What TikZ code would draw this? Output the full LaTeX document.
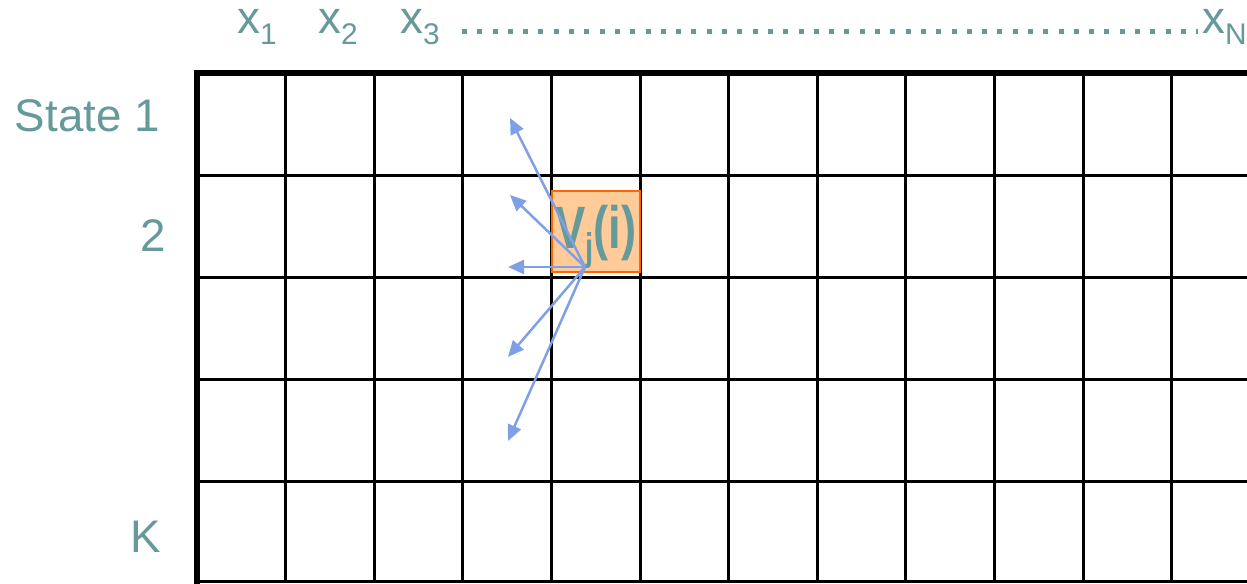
\documentclass[tikz,border=0pt]{standalone}
\usepackage{fontspec}
\setmainfont{Liberation Sans}
\usepackage{tikz}
\usetikzlibrary{arrows.meta}
\definecolor{VTeal}{HTML}{669999}
\definecolor{VArrow}{HTML}{7F9FE6}
\definecolor{VFill}{HTML}{FFCC99}
\definecolor{VEdge}{HTML}{FF6600}
\newcommand{\lowidx}[1]{\raisebox{-0.22em}{\fontsize{17}{17}\selectfont #1}}

\begin{document}
\begin{tikzpicture}[x=0.02cm,y=0.02cm,
  lbl/.style={text=VTeal,font=\fontsize{26}{30}\selectfont,inner sep=0pt},
  gridline/.style={line width=0.06cm},
  cellbox/.style={draw=VEdge,fill=VFill,line width=0.04cm,minimum width=1.76cm,minimum height=1.62cm,inner sep=0pt},
  vec/.style={VArrow,line width=0.05cm,-{Triangle[length=0.32cm,width=0.28cm]}}]
\path[use as bounding box] (0,0) rectangle (1247,584);
% grid
\foreach \k in {1,...,11}
  \draw[gridline] ({197+88.6*\k},2) -- ({197+88.6*\k},511);
\foreach \yy in {408,306,204,102}
  \draw[gridline] (197,\yy) -- (1260,\yy);
\draw[gridline] (197,2.5) -- (1260,2.5);
\draw[line width=0.12cm] (1260,511) -- (197,511) -- (197,0);
% column labels
\node[lbl,anchor=base west] (x1) at (237,550) {x\lowidx{1}};
\node[lbl,anchor=base west] (x2) at (318,550) {x\lowidx{2}};
\node[lbl,anchor=base west] (x3) at (400,550) {x\lowidx{3}};
\node[lbl,anchor=base west] (xN) at (1202,550) {x\lowidx{N}};
\coordinate (dots0) at (462,552);
\coordinate (dots1) at (1198,552);
\draw[VTeal,line width=0.1cm,dash pattern=on 0.1cm off 0.206cm] (dots0) -- (dots1);
% row labels
\node[lbl,anchor=east] (s1) at (160,468) {State 1};
\node[lbl,anchor=east] (s2) at (166,348) {2};
\node[lbl,anchor=east] (sK) at (161,47) {K};
% highlighted cell
\node[cellbox] (cell) at (596,352.5) {};
\node[lbl,font=\fontsize{34}{36}\selectfont\bfseries] (vji) at (596,347)
  {\scalebox{0.76}[1]{V\raisebox{-0.2em}{\fontsize{22}{22}\selectfont j}(i)}};
% transitions
\coordinate (src) at (585,317);
\coordinate (t1) at (510,466);
\coordinate (t2) at (510,389);
\coordinate (t3) at (508,317);
\coordinate (t4) at (508,227);
\coordinate (t5) at (508,143);
\foreach \t in {t1,t2,t3,t4,t5}
  \draw[vec] (src) -- (\t);
\end{tikzpicture}
\end{document}
